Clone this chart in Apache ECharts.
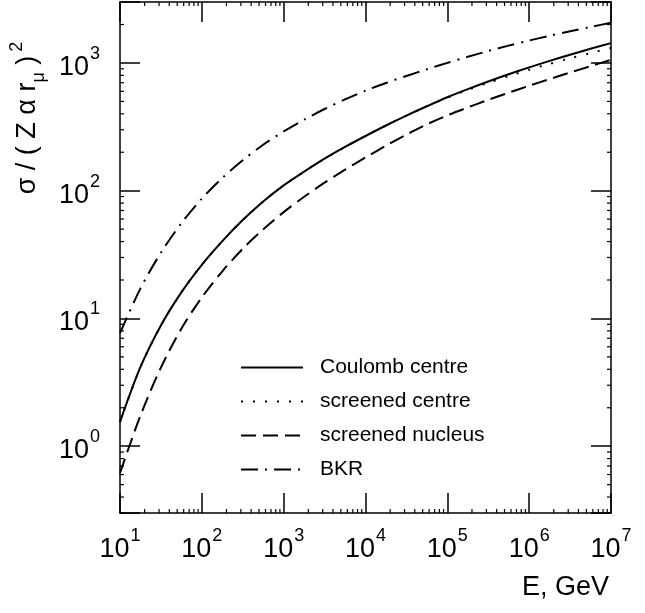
<!DOCTYPE html>
<html><head><meta charset="utf-8">
<script src="https://cdn.jsdelivr.net/npm/echarts@6/dist/echarts.min.js"></script>
<style>html,body{margin:0;padding:0;background:#fff}#c{width:645px;height:613px}</style>
</head><body><div id="c"></div>
<script>
// ---- data ----
const energies = [10, 17.8, 31.6, 56.2, 100, 178, 316, 562, 1000, 1780, 3160, 5620, 10000,
  17800, 31600, 56200, 100000, 178000, 316000, 562000, 1000000, 1780000, 3160000, 5620000, 10000000];
const coulombCentre   = [1.55, 4.17, 8.81, 16.0, 26.3, 40.3, 58.9, 82.2, 110, 141, 178, 220, 268,
  324, 387, 458, 539, 624, 716, 815, 923, 1038, 1161, 1291, 1429];
const screenedCentre  = [1.55, 4.17, 8.81, 16.0, 26.3, 40.3, 58.9, 82.2, 110, 141, 178, 220, 268,
  324, 387, 458, 535, 615, 700, 789, 885, 984, 1089, 1194, 1310];
const screenedNucleus = [0.617, 1.74, 4.12, 8.32, 14.6, 23.4, 35.1, 49.8, 68.0, 89.7, 115.5, 146, 182,
  225, 275, 331, 389, 449, 514, 585, 663, 748, 841, 944, 1059];
const bkr             = [7.67, 17.2, 32.7, 55.6, 86.6, 126, 173, 229, 291, 360, 436, 518, 607,
  697, 791, 892, 1001, 1117, 1239, 1366, 1498, 1633, 1770, 1914, 2061];
const seriesNames = ['Coulomb centre', 'screened centre', 'screened nucleus', 'BKR'];
const xTickValues = [10, 100, 1000, 10000, 100000, 1000000, 10000000];
const xTickExps   = ['1', '2', '3', '4', '5', '6', '7'];
const yTickValues = [1, 10, 100, 1000];
const yTickExps   = ['0', '1', '2', '3'];
const minorMultipliers = [2, 3, 4, 5, 6, 7, 8, 9];
const xDecades = [10, 100, 1000, 10000, 100000, 1000000];
const yDecades = [0.1, 1, 10, 100, 1000];
const xRange = [10, 10000000];
const yRange = [0.3, 3000];

const FONT = '"Liberation Sans", Arial, Helvetica, sans-serif';

function pairs(ys) { return energies.map((e, i) => [e, ys[i]]); }
function matchIdx(vals, v) {
  for (let i = 0; i < vals.length; i++) if (Math.abs(Math.log10(v) - Math.log10(vals[i])) < 1e-6) return i;
  return -1;
}
function fmtX(v) { const i = matchIdx(xTickValues, v); return i < 0 ? '' : '{b|10}{s|' + xTickExps[i] + '}'; }
function fmtY(v) { const i = matchIdx(yTickValues, v); return i < 0 ? '' : '{b|10}{s|' + yTickExps[i] + '}'; }

const labelRich = {
  b: { fontSize: 27, fontFamily: FONT, color: '#000', lineHeight: 36, verticalAlign: 'bottom' },
  s: { fontSize: 18, fontFamily: FONT, color: '#000', lineHeight: 36, verticalAlign: 'top', padding: [0, 0, 0, 1] }
};

const minorData = [];
xDecades.forEach(d => minorMultipliers.forEach(m => minorData.push([d * m, 1, 0])));
yDecades.forEach(d => minorMultipliers.forEach(m => {
  const v = d * m; if (v > yRange[0] && v < yRange[1]) minorData.push([100, v, 1]);
}));

const axisLine = { show: true, lineStyle: { color: '#000', width: 1.5 } };
const majorTick = { show: true, inside: true, length: 20, lineStyle: { color: '#000', width: 1.5 } };

const chart = echarts.init(document.getElementById('c'), null, { renderer: 'canvas' });
chart.setOption({
  backgroundColor: '#fff',
  animation: false,
  grid: { left: 120, right: 34, top: 2, bottom: 100 },
  xAxis: [
    { type: 'log', min: xRange[0], max: xRange[1], position: 'bottom', axisLine, axisTick: majorTick,
      splitLine: { show: false }, axisLabel: { formatter: fmtX, margin: 14, rich: labelRich, showMinLabel: true, showMaxLabel: true } },
    { type: 'log', min: xRange[0], max: xRange[1], position: 'top', axisLine, axisTick: majorTick,
      splitLine: { show: false }, axisLabel: { show: false } }
  ],
  yAxis: [
    { type: 'log', min: yRange[0], max: yRange[1], position: 'left', axisLine, axisTick: majorTick,
      splitLine: { show: false }, axisLabel: { formatter: fmtY, margin: 20, rich: labelRich } },
    { type: 'log', min: yRange[0], max: yRange[1], position: 'right', axisLine, axisTick: majorTick,
      splitLine: { show: false }, axisLabel: { show: false } }
  ],
  legend: {
    data: seriesNames, orient: 'vertical', left: 240, top: 357, padding: 0,
    itemWidth: 62, itemHeight: 14, itemGap: 13,
    itemStyle: { opacity: 0 },
    textStyle: { fontSize: 21, fontFamily: FONT, color: '#000', padding: [0, 0, 0, 12] }
  },
  graphic: [
    { type: 'text', x: 609, y: 588, style: { text: 'E, GeV', font: '27px ' + FONT, fill: '#000', align: 'right', verticalAlign: 'middle' } },
    { type: 'text', x: 28, y: 118, rotation: Math.PI / 2,
      style: {
        text: '{n|σ / ( Z α r}{sub|μ}{n| )}{sup|2}', align: 'center', verticalAlign: 'middle',
        rich: {
          n: { fontSize: 27, fontFamily: FONT, fill: '#000', lineHeight: 40, verticalAlign: 'middle' },
          sub: { fontSize: 18, fontFamily: FONT, fill: '#000', lineHeight: 40, verticalAlign: 'bottom' },
          sup: { fontSize: 18, fontFamily: FONT, fill: '#000', lineHeight: 40, verticalAlign: 'top', padding: [0, 0, 0, 4] }
        }
      } }
  ],
  series: [
    { name: seriesNames[0], type: 'line', data: pairs(coulombCentre), smooth: 0.3, symbol: 'none',
      lineStyle: { color: '#000', width: 2, type: 'solid' }, itemStyle: { color: '#000' } },
    { name: seriesNames[1], type: 'line', data: pairs(screenedCentre), smooth: 0.3, symbol: 'none',
      lineStyle: { color: '#000', width: 2, type: [2, 10] }, itemStyle: { color: '#000' } },
    { name: seriesNames[2], type: 'line', data: pairs(screenedNucleus), smooth: 0.3, symbol: 'none',
      lineStyle: { color: '#000', width: 2, type: [15, 7] }, itemStyle: { color: '#000' } },
    { name: seriesNames[3], type: 'line', data: pairs(bkr), smooth: 0.3, symbol: 'none',
      lineStyle: { color: '#000', width: 2, type: [17, 7, 2, 7] }, itemStyle: { color: '#000' } },
    { type: 'custom', name: 'minorTicks', data: minorData, clip: false, silent: true, z: 5,
      renderItem: function (params, api) {
        const cs = params.coordSys;
        const kind = api.value(2);
        const st = { stroke: '#000', lineWidth: 1.2 };
        if (kind === 0) {
          const px = api.coord([api.value(0), 1])[0];
          return { type: 'group', children: [
            { type: 'line', shape: { x1: px, y1: cs.y + cs.height, x2: px, y2: cs.y + cs.height - 4 }, style: st },
            { type: 'line', shape: { x1: px, y1: cs.y, x2: px, y2: cs.y + 4 }, style: st }
          ] };
        }
        const py = api.coord([100, api.value(1)])[1];
        return { type: 'group', children: [
          { type: 'line', shape: { x1: cs.x, y1: py, x2: cs.x + 4, y2: py }, style: st },
          { type: 'line', shape: { x1: cs.x + cs.width, y1: py, x2: cs.x + cs.width - 4, y2: py }, style: st }
        ] };
      } }
  ]
});
</script>
</body></html>
